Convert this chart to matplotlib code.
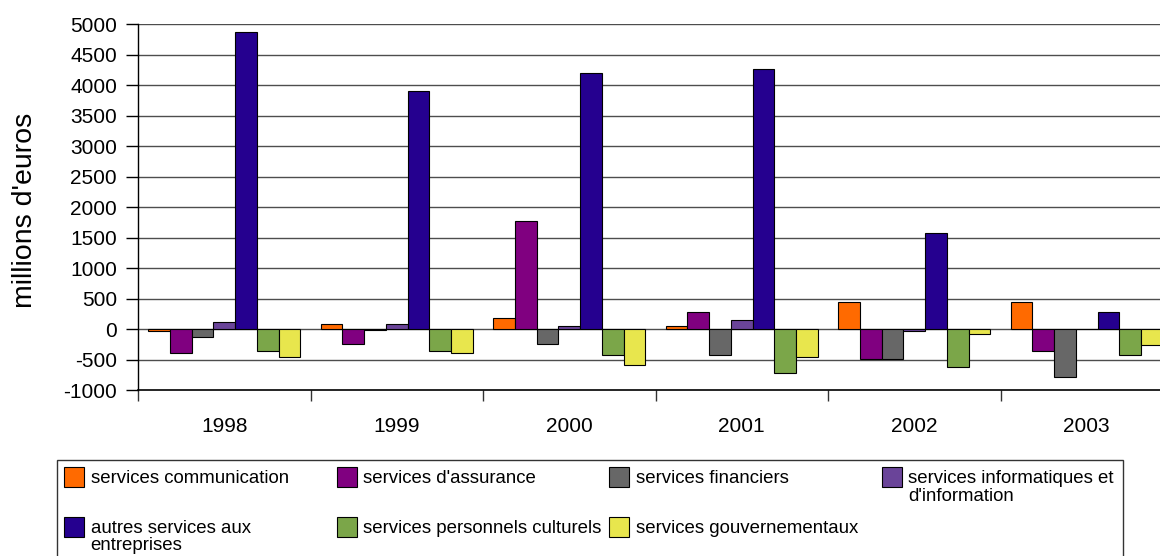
import matplotlib
matplotlib.use("Agg")
import matplotlib.pyplot as plt
from matplotlib.patches import Rectangle
import numpy as np

plt.rcParams['font.family'] = ['Liberation Sans', 'DejaVu Sans']
plt.rcParams['axes.unicode_minus'] = False

# data (millions d'euros)
years = ['1998', '1999', '2000', '2001', '2002', '2003']
series_names = [
    "services communication",
    "services d'assurance",
    "services financiers",
    "services informatiques et\nd'information",
    "autres services aux\nentreprises",
    "services personnels culturels",
    "services gouvernementaux",
]
communication = [-25, 90, 185, 60, 445, 445]
assurance = [-385, -235, 1775, 287, -490, -360]
financiers = [-130, -20, -235, -425, -490, -775]
informatiques = [125, 90, 60, 157, -30, 0]
autres_entreprises = [4870, 3905, 4195, 4260, 1578, 287]
personnels_culturels = [-360, -355, -425, -715, -615, -425]
gouvernementaux = [-455, -390, -585, -455, -70, -260]

series = [communication, assurance, financiers, informatiques,
          autres_entreprises, personnels_culturels, gouvernementaux]
colors = ['#FF6A00', '#800080', '#676767', '#6A4499',
          '#25008F', '#7BA649', '#E8E64D']

W, H = 1160, 556
fig = plt.figure(figsize=(W / 100, H / 100), dpi=100)

# axes box in pixels (right edge runs past the picture, as in the original)
left_px, right_px, top_px, bottom_px = 138, 1173, 24, 390.3
ax = fig.add_axes([left_px / W, 1 - bottom_px / H,
                   (right_px - left_px) / W, (bottom_px - top_px) / H])

x = np.arange(len(years))
bw = 0.126
for i, (vals, col) in enumerate(zip(series, colors)):
    ax.bar(x + (i - 3) * bw, vals, width=bw, color=col,
           edgecolor='black', linewidth=0.8, zorder=3)

ax.set_xlim(-0.5, len(years) - 0.5)
ax.set_ylim(-1000, 5000)
ax.set_yticks(np.arange(-1000, 5001, 500))
ax.set_xticks(x)
ax.set_xticklabels(years)
ax.set_xticks(np.arange(-0.5, len(years)), minor=True)

ax.tick_params(axis='y', labelsize=15, length=8.6, width=1, pad=6.5)
ax.tick_params(axis='x', which='major', labelsize=15, length=0, pad=19)
ax.tick_params(axis='x', which='minor', length=8, width=1, color='#333333')

for v in np.arange(-500, 5001, 500):
    ax.axhline(v, color='#4d4d4d', lw=1.0, zorder=1)

for s in ['top', 'right']:
    ax.spines[s].set_visible(False)
ax.spines['left'].set_linewidth(1.0)
ax.spines['bottom'].set_linewidth(1.2)

fig.text(25 / W, 1 - 210.5 / H, "millions d'euros", rotation=90,
         ha='center', va='center', fontsize=20.5)

# legend drawn by hand to follow the original layout
fig.patches.append(Rectangle((56.7 / W, -0.1), (1122.7 - 56.7) / W,
                             0.1 + 1 - 460 / H, transform=fig.transFigure,
                             facecolor='white', edgecolor='#333333', lw=1.0))
rows = [[0, 1, 2, 3], [4, 5, 6]]
row_top = [467.3, 516.7]
for r, idxs in enumerate(rows):
    for c, k in enumerate(idxs):
        px = 64.3 + c * 272.5
        py = row_top[r]
        fig.patches.append(Rectangle((px / W, 1 - (py + 20) / H), 20 / W, 20 / H,
                                     transform=fig.transFigure,
                                     facecolor=colors[k], edgecolor='black', lw=0.8))
        fig.text((px + 26.4) / W, 1 - (py + 3) / H, series_names[k],
                 ha='left', va='top', fontsize=13.4, linespacing=1.02)

fig.savefig('out.png', dpi=100)
